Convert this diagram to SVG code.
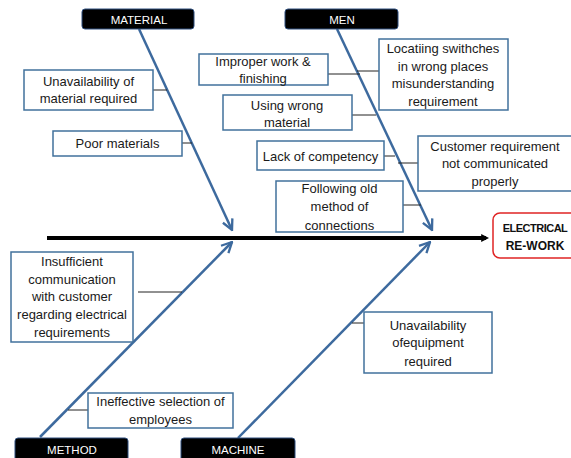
<svg xmlns="http://www.w3.org/2000/svg" width="571" height="458" viewBox="0 0 571 458">
<defs>
<marker id="chev" viewBox="0 0 10 10" refX="9" refY="5" markerWidth="13" markerHeight="13" markerUnits="userSpaceOnUse" orient="auto">
<path d="M1,1 L9,5 L1,9" fill="none" stroke="#3D6A9E" stroke-width="1.8"/>
</marker>
<marker id="head" viewBox="0 0 10 10" refX="6" refY="5" markerWidth="8" markerHeight="8" markerUnits="userSpaceOnUse" orient="auto">
<path d="M0,0 L10,5 L0,10 Z" fill="#000"/>
</marker>
</defs>
<style>
.box{fill:#fff;stroke:#41719C;stroke-width:1.5}
.hdr{fill:#000;stroke:#2F4F7F;stroke-width:1}
.t{font-family:"Liberation Sans",Arial,sans-serif;font-size:13px;fill:#1a1a1a;text-anchor:middle}
.h{font-family:"Liberation Sans",Arial,sans-serif;font-size:11.5px;fill:#fff;text-anchor:middle}
.e{font-family:"Liberation Sans",Arial,sans-serif;font-size:12px;font-weight:bold;fill:#111;text-anchor:middle}
.bone{stroke:#3D6A9E;stroke-width:2.5;fill:none;marker-end:url(#chev)}
.c{stroke:#222;stroke-width:1}
</style>
<rect width="571" height="458" fill="#fff"/>
<g id="connectors">
<line x1="47" y1="238" x2="486" y2="238" stroke="#000" stroke-width="4" marker-end="url(#head)"/>
<line class="bone" x1="139" y1="29" x2="232" y2="230"/>
<line class="bone" x1="337" y1="29" x2="432" y2="230"/>
<line class="bone" x1="40" y1="437" x2="232" y2="242"/>
<line class="bone" x1="238" y1="438" x2="430" y2="242"/>
<line class="c" x1="153" y1="90" x2="167" y2="90"/>
<line class="c" x1="182" y1="143" x2="192" y2="143"/>
<line class="c" x1="327" y1="74" x2="360" y2="74"/>
<line class="c" x1="357" y1="71" x2="379" y2="71"/>
<line class="c" x1="352" y1="115" x2="376" y2="115"/>
<line class="c" x1="384" y1="156" x2="395" y2="156"/>
<line class="c" x1="398" y1="163" x2="418" y2="163"/>
<line class="c" x1="403" y1="205" x2="421" y2="205"/>
<line class="c" x1="138" y1="292" x2="182" y2="292"/>
<line class="c" x1="68" y1="410" x2="88" y2="410"/>
<line class="c" x1="352" y1="323" x2="364" y2="323"/>
</g>
<g id="material">
<rect class="hdr" x="82" y="9" width="112" height="20" rx="3"/>
<text class="h" x="139" y="23.5">MATERIAL</text>
</g>
<g id="men">
<rect class="hdr" x="285" y="9" width="113" height="20" rx="3"/>
<text class="h" x="342" y="23.5">MEN</text>
</g>
<g id="method">
<rect class="hdr" x="15" y="438" width="113" height="24" rx="3"/>
<text class="h" x="72" y="454">METHOD</text>
</g>
<g id="machine">
<rect class="hdr" x="181" y="438" width="114" height="24" rx="3"/>
<text class="h" x="238" y="454">MACHINE</text>
</g>
<g id="effect">
<rect x="493" y="213" width="90" height="45" rx="7" fill="#fff" stroke="#E02424" stroke-width="1.5"/>
<text class="e" x="535" y="232" style="font-size:11px;letter-spacing:-0.5px">ELECTRICAL</text>
<text class="e" x="535" y="250">RE-WORK</text>
</g>
<g id="unavail-material">
<rect class="box" x="24" y="70" width="129" height="40"/>
<text class="t" x="88.5" y="86">Unavailability of</text>
<text class="t" x="88.5" y="103">material required</text>
</g>
<g id="poor-materials">
<rect class="box" x="53" y="131" width="129" height="25"/>
<text class="t" x="117.5" y="148">Poor materials</text>
</g>
<g id="improper-work">
<rect class="box" x="199" y="54" width="129" height="31"/>
<text class="t" x="263" y="66">Improper work &amp;</text>
<text class="t" x="263" y="83">finishing</text>
</g>
<g id="locating">
<rect class="box" x="379" y="39" width="129" height="71"/>
<text class="t" x="443" y="52.5">Locatiing swithches</text>
<text class="t" x="443" y="70.5">in wrong places</text>
<text class="t" x="443" y="88">misunderstanding</text>
<text class="t" x="443" y="106">requirement</text>
</g>
<g id="using-wrong">
<rect class="box" x="223" y="95" width="129" height="35"/>
<text class="t" x="287" y="109.5">Using wrong</text>
<text class="t" x="287" y="126.5">material</text>
</g>
<g id="lack-competency">
<rect class="box" x="257" y="141" width="127" height="29"/>
<text class="t" x="320.5" y="161">Lack of competency</text>
</g>
<g id="customer-req">
<rect class="box" x="418" y="136" width="160" height="55"/>
<text class="t" x="495" y="150.5">Customer requirement</text>
<text class="t" x="495" y="168">not communicated</text>
<text class="t" x="495" y="186">properly</text>
</g>
<g id="following-old">
<rect class="box" x="276" y="181" width="127" height="51"/>
<text class="t" x="339.5" y="192.5">Following old</text>
<text class="t" x="339.5" y="211">method of</text>
<text class="t" x="339.5" y="229.5">connections</text>
</g>
<g id="insufficient">
<rect class="box" x="11" y="252" width="122" height="90"/>
<text class="t" x="72" y="266">Insufficient</text>
<text class="t" x="72" y="283.5">communication</text>
<text class="t" x="72" y="301">with customer</text>
<text class="t" x="72" y="319">regarding electrical</text>
<text class="t" x="72" y="337">requirements</text>
</g>
<g id="ineffective">
<rect class="box" x="88" y="393" width="145" height="35"/>
<text class="t" x="160.5" y="406">Ineffective selection of</text>
<text class="t" x="160.5" y="424">employees</text>
</g>
<g id="unavail-equipment">
<rect class="box" x="364" y="312" width="128" height="61"/>
<text class="t" x="428" y="329.5">Unavailability</text>
<text class="t" x="428" y="347">ofequipment</text>
<text class="t" x="428" y="365.5">required</text>
</g>
</svg>
